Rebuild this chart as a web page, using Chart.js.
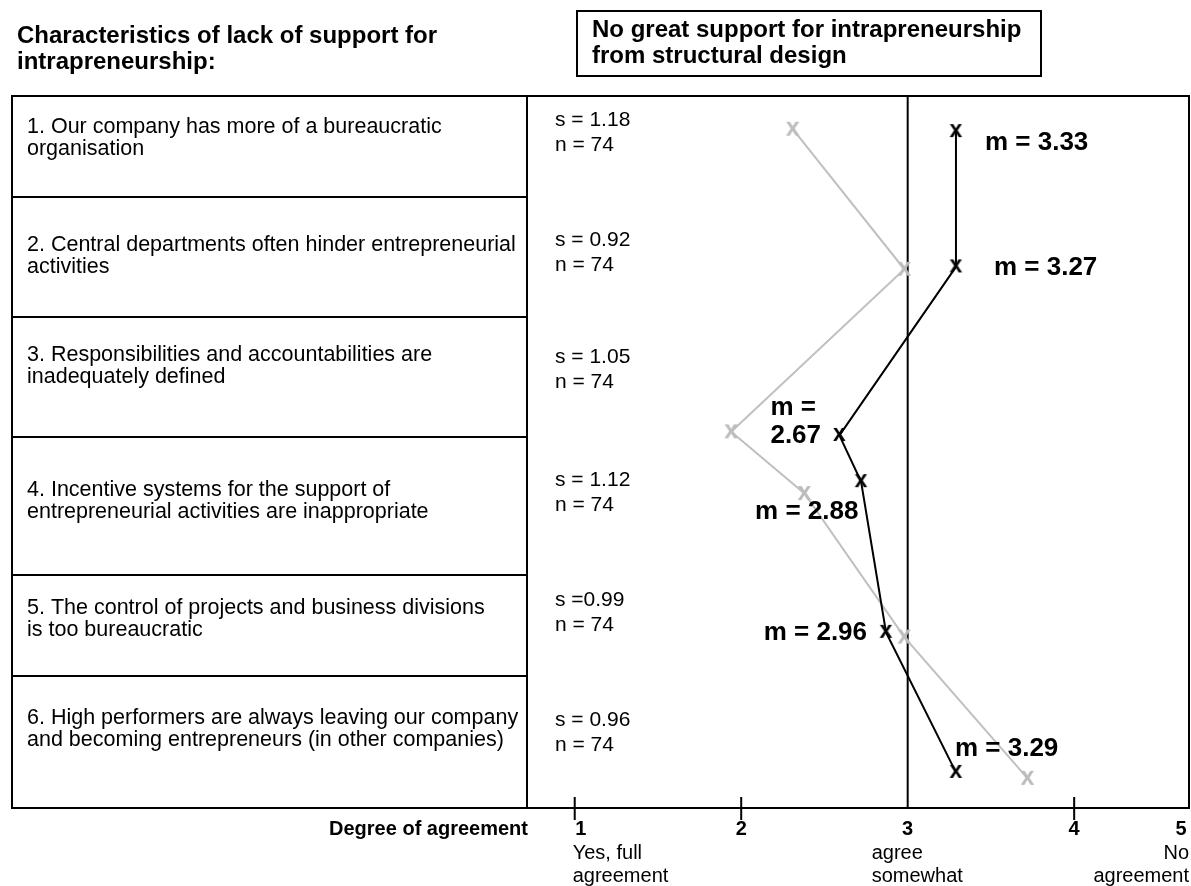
<!DOCTYPE html>
<html>
<head>
<meta charset="utf-8">
<script src="https://cdn.jsdelivr.net/npm/chart.js@4"></script>
<style>
  html, body { margin: 0; padding: 0; background: #fff; }
  canvas { display: block; }
</style>
</head>
<body>
<canvas id="profile-chart" width="1191" height="886"></canvas>
<script>
// Items of the questionnaire (two text lines each)
const statements = [
    ['1. Our company has more of a bureaucratic', 'organisation'],
    ['2. Central departments often hinder entrepreneurial', 'activities'],
    ['3. Responsibilities and accountabilities are', 'inadequately defined'],
    ['4. Incentive systems for the support of', 'entrepreneurial activities are inappropriate'],
    ['5. The control of projects and business divisions', 'is too bureaucratic'],
    ['6. High performers are always leaving our company', 'and becoming entrepreneurs (in other companies)']
];
const sLabels = ['s = 1.18', 's = 0.92', 's = 1.05', 's = 1.12', 's =0.99', 's = 0.96'];
const nLabels = ['n = 74', 'n = 74', 'n = 74', 'n = 74', 'n = 74', 'n = 74'];
const meanLabels = [['m = 3.33'], ['m = 3.27'], ['m =', '2.67'], ['m = 2.88'], ['m = 2.96'], ['m = 3.29']];

// profile points as drawn (x = degree of agreement, y = position down the item list)
const meanX = [3.29, 3.29, 2.59, 2.72, 2.87, 3.29];
const meanY = [0.30, 1.44, 2.86, 3.25, 4.52, 5.70];
const compareX = [2.31, 2.98, 1.94, 2.38, 2.98, 3.72];
const compareY = [0.28, 1.46, 2.83, 3.35, 4.56, 5.75];

const scaleTicks = [1, 2, 3, 4, 5];
const scaleNotes = { 1: ['Yes, full', 'agreement'], 3: ['agree', 'somewhat'], 5: ['No', 'agreement'] };

// layout of the surrounding table (pixels)
const box = { left: 12, top: 96, right: 1189, bottom: 808, divider: 527 };
const rowLines = [197, 317, 437, 575, 676];
const rowTextY = [127, 245, 355, 490, 608, 718];
const rowStatY = [120, 240, 357, 480, 600, 720];
const labelOffsets = [[29, 11, 'left'], [38, 1, 'left'], [-69, -28, 'left'], [-106, 30, 'left'], [-19, 0, 'right'], [-1, -24, 'left']];

const FONT = '"Liberation Sans", Arial, Helvetica, sans-serif';

const makeCross = (color, size) => {
    const c = document.createElement('canvas');
    c.width = size; c.height = size;
    const g = c.getContext('2d');
    g.fillStyle = color;
    g.font = `bold ${size}px ${FONT}`;
    g.textAlign = 'center';
    g.textBaseline = 'alphabetic';
    g.fillText('x', size / 2, size / 2 + size * 0.26);
    return c;
};

const toPoints = (xs, ys) => xs.map((x, i) => ({ x: x, y: ys[i] }));

const tablePlugin = {
    id: 'tablePlugin',
    beforeDraw(chart) {
        const ctx = chart.ctx;
        const xs = chart.scales.x;
        ctx.save();
        ctx.fillStyle = '#fff';
        ctx.fillRect(0, 0, chart.width, chart.height);

        // headings
        ctx.fillStyle = '#000';
        ctx.textBaseline = 'middle';
        ctx.font = `bold 24px ${FONT}`;
        ctx.fillText('Characteristics of lack of support for', 17, 36);
        ctx.fillText('intrapreneurship:', 17, 62);
        ctx.lineWidth = 2;
        ctx.strokeRect(577, 11, 464, 65);
        ctx.fillText('No great support for intrapreneurship', 592, 30);
        ctx.fillText('from structural design', 592, 56);

        // frame
        ctx.strokeStyle = '#000';
        ctx.lineWidth = 2;
        ctx.strokeRect(box.left, box.top, box.right - box.left, box.bottom - box.top);
        ctx.beginPath();
        ctx.moveTo(box.divider, box.top);
        ctx.lineTo(box.divider, box.bottom);
        rowLines.forEach(y => {
            ctx.moveTo(box.left, y);
            ctx.lineTo(box.divider, y);
        });
        ctx.stroke();

        // statements and stats
        statements.forEach((lines, i) => {
            ctx.font = `21.5px ${FONT}`;
            lines.forEach((t, j) => ctx.fillText(t, 27, rowTextY[i] + j * 22.5));
            ctx.font = `21px ${FONT}`;
            ctx.fillText(sLabels[i], 555, rowStatY[i]);
            ctx.fillText(nLabels[i], 555, rowStatY[i] + 25);
        });

        // vertical reference line at "agree somewhat"
        const x3 = xs.getPixelForValue(3);
        ctx.beginPath();
        ctx.moveTo(x3, box.top);
        ctx.lineTo(x3, box.bottom);
        ctx.stroke();

        // axis ticks and labels
        ctx.font = `bold 20px ${FONT}`;
        ctx.textAlign = 'right';
        ctx.fillText('Degree of agreement', 528, 829);
        scaleTicks.forEach(v => {
            const px = Math.min(xs.getPixelForValue(v), 1181);
            if (v !== 3 && v !== 5) {
                ctx.beginPath();
                ctx.moveTo(px, 797);
                ctx.lineTo(px, 820);
                ctx.stroke();
            }
            ctx.font = `bold 20px ${FONT}`;
            ctx.textAlign = 'center';
            ctx.fillText(String(v), v === 1 ? px + 6 : px, 829);
            const notes = scaleNotes[v];
            if (notes) {
                ctx.font = `20px ${FONT}`;
                ctx.textAlign = v === 5 ? 'right' : 'left';
                const nx = v === 1 ? px - 2 : (v === 5 ? 1189 : px - 36);
                notes.forEach((t, j) => ctx.fillText(t, nx, 853 + j * 23));
            }
        });
        ctx.restore();
    },
    afterDatasetsDraw(chart) {
        const ctx = chart.ctx;
        const pts = chart.getDatasetMeta(0).data;
        ctx.save();
        ctx.fillStyle = '#000';
        ctx.font = `bold 26px ${FONT}`;
        ctx.textBaseline = 'middle';
        meanLabels.forEach((lines, i) => {
            const [dx, dy, align] = labelOffsets[i];
            ctx.textAlign = align;
            lines.forEach((t, j) => ctx.fillText(t, pts[i].x + dx, pts[i].y + dy + j * 28));
        });
        ctx.restore();
    }
};

const config = {
    type: 'scatter',
    data: {
        datasets: [{
            label: 'Mean',
            data: toPoints(meanX, meanY),
            showLine: true,
            borderColor: '#000',
            borderWidth: 2,
            pointStyle: makeCross('#000', 23),
            tension: 0
        }, {
            label: 'Comparison',
            data: toPoints(compareX, compareY),
            showLine: true,
            borderColor: '#c0c0c0',
            borderWidth: 2,
            pointStyle: makeCross('#bdbdbd', 25),
            tension: 0
        }]
    },
    options: {
        responsive: false,
        animation: false,
        layout: { padding: { left: 527, top: 96, right: 2, bottom: 78 } },
        plugins: {
            legend: { display: false },
            tooltip: { enabled: false }
        },
        scales: {
            x: { type: 'linear', min: 0.7134, max: 4.6657, display: false },
            y: { type: 'linear', min: 0, max: 6, reverse: true, display: false }
        }
    },
    plugins: [tablePlugin]
};

new Chart(document.getElementById('profile-chart').getContext('2d'), config);
</script>
</body>
</html>
